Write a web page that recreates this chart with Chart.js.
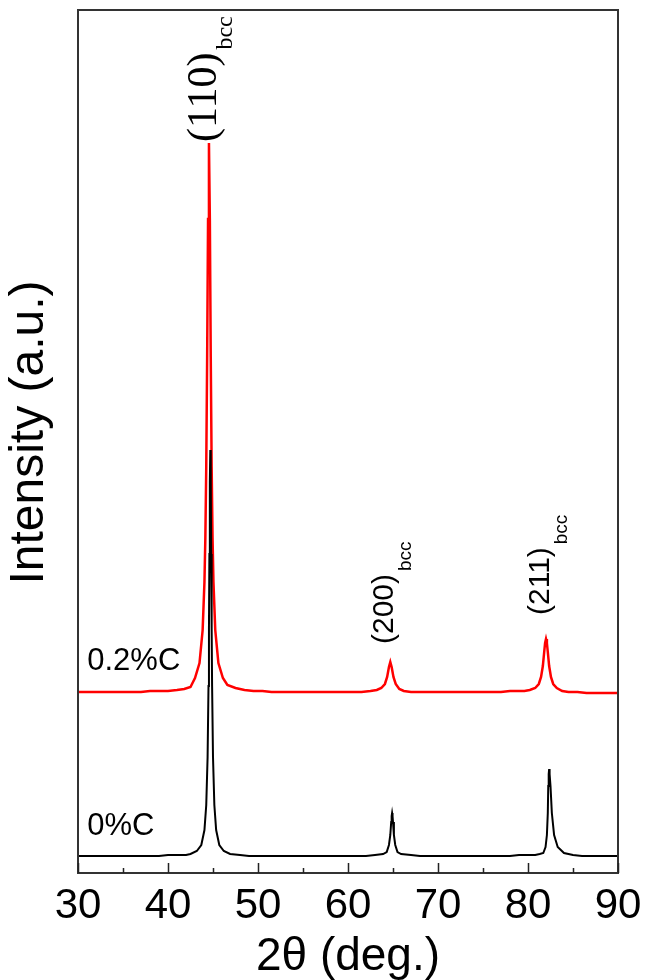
<!DOCTYPE html>
<html>
<head>
<meta charset="utf-8">
<script src="https://cdn.jsdelivr.net/npm/chart.js@4"></script>
<style>
  html, body { margin: 0; padding: 0; background: #fff; }
  #wrap { width: 652px; height: 980px; }
</style>
</head>
<body>
<div id="wrap"><canvas id="xrd"></canvas></div>
<script>
  // 2theta (deg.) and intensity (a.u., offset stacked)
  const black2Theta = [
    30, 31, 32, 33, 34, 35, 36, 37, 38, 39, 40, 41, 42, 42.5, 43.2, 43.7,
    44.05, 44.25, 44.4, 44.5, 44.55, 44.6, 44.65, 44.7, 44.75, 44.8, 44.85, 44.9, 45.0, 45.15, 45.35, 45.7,
    46.2, 46.9, 48, 49, 50, 51, 52, 53, 54, 55, 56, 57, 58, 59, 60, 61, 62, 63,
    63.9, 64.3, 64.55, 64.7, 64.8, 64.85, 64.9, 64.95, 65.0, 65.1, 65.25, 65.5, 65.9,
    67, 68, 69, 70, 71, 72, 73, 74, 75, 76, 77, 78, 79, 80, 80.8,
    81.3, 81.7, 81.95, 82.1, 82.2, 82.25, 82.3, 82.35, 82.4, 82.5, 82.65, 82.9, 83.3,
    84, 85, 86, 87, 88, 89, 90
  ];
  const blackIntensity = [
    17, 17, 17, 17, 17, 17, 17, 17, 17, 17, 18, 18, 18, 19, 22, 28,
    43, 68, 116, 187, 245, 319, 391, 423, 391, 319, 245, 187, 116, 68, 43, 28,
    22, 19, 18, 17, 17, 17, 17, 17, 17, 17, 17, 17, 17, 17, 17, 17, 17, 18,
    19, 21, 28, 38, 51, 57, 60, 57, 51, 38, 28, 21, 19,
    18, 17, 17, 17, 17, 17, 17, 17, 17, 17, 17, 17, 18, 18, 18, 19,
    20, 26, 38, 60, 87, 99, 104, 99, 87, 60, 38, 26, 20,
    18, 17, 17, 17, 17, 17, 17
  ];

  const red2Theta = [
    30, 31, 32, 33, 34, 35, 36, 37, 38, 39, 40, 41, 41.8, 42.5, 43.0, 43.5,
    43.85, 44.05, 44.15, 44.25, 44.35, 44.45, 44.55, 44.65, 44.75, 44.85, 44.95, 45.05, 45.25,
    45.6, 46.1, 46.6, 47.5, 48.5, 49.5, 50.5, 51.5, 52.5, 53.5, 54.5, 55.5, 56.5, 57.5, 58.5, 59.5,
    60.5, 61.5, 62.5, 63.2, 63.7, 64.1, 64.35, 64.55, 64.7, 64.85, 65.05, 65.3, 65.7, 66.2,
    67, 68, 69, 70, 71, 72, 73, 74, 75, 76, 77, 78, 79, 79.6, 80.2,
    80.8, 81.2, 81.45, 81.65, 81.8, 81.9, 82.0, 82.1, 82.2, 82.35, 82.55, 82.8, 83.2, 83.8,
    84.5, 85.5, 86.5, 87.5, 88.5, 89.5, 90
  ];
  const redIntensity = [
    181, 181, 181, 181, 181, 181, 181, 181, 182, 182, 182, 183, 184, 186, 195, 210,
    243, 291, 335, 406, 516, 654, 730, 654, 516, 406, 335, 291, 243,
    210, 195, 188, 185, 183, 182, 182, 181, 181, 181, 181, 181, 181, 181, 181, 181,
    181, 181, 182, 183, 185, 189, 196, 206, 211, 206, 196, 189, 184, 182,
    181, 181, 181, 181, 181, 181, 181, 181, 181, 181, 181, 182, 182, 182, 183,
    185, 189, 196, 207, 221, 230, 234, 230, 221, 207, 196, 189, 185, 182,
    181, 181, 180, 180, 180, 180, 180
  ];

  const seriesNames = ['0%C', '0.2%C'];
  const xTicks = [30, 40, 50, 60, 70, 80, 90];
  const xMinorTicks = [35, 45, 55, 65, 75, 85];
  const peakNames = ['(110)', '(200)', '(211)'];
  const peakPhase = 'bcc';

  const toPoints = (xs, ys) => xs.map((x, i) => ({ x: x, y: ys[i] }));

  // where the texts sit, in data units
  const peakLabelAt = [
    { x: 44.14, y: 731, font: 'Liberation Serif', size: 42, sub: 24, shift: 20 },
    { x: 64.09, y: 229, font: 'Liberation Sans', size: 30, sub: 19, shift: 21 },
    { x: 81.37, y: 258, font: 'Liberation Sans', size: 30, sub: 19, shift: 21 }
  ];
  const seriesLabelAt = [
    { x: 31.03, y: 38 },
    { x: 31.03, y: 203 }
  ];

  const frameAndText = {
    id: 'frameAndText',
    afterDatasetsDraw(chart) {
      const ctx = chart.ctx;
      const a = chart.chartArea;
      const xs = chart.scales.x;
      const ys = chart.scales.y;
      ctx.save();

      // box
      ctx.strokeStyle = '#333';
      ctx.lineWidth = 2;
      ctx.strokeRect(a.left, a.top, a.right - a.left, a.bottom - a.top);

      // inward ticks on the bottom axis
      ctx.lineWidth = 1.5;
      ctx.strokeStyle = '#222';
      ctx.beginPath();
      xTicks.forEach(v => {
        const px = Math.round(xs.getPixelForValue(v)) + 0.5;
        ctx.moveTo(px, a.bottom);
        ctx.lineTo(px, a.bottom - 10);
      });
      xMinorTicks.forEach(v => {
        const px = Math.round(xs.getPixelForValue(v)) + 0.5;
        ctx.moveTo(px, a.bottom);
        ctx.lineTo(px, a.bottom - 5);
      });
      ctx.stroke();

      ctx.fillStyle = '#000';

      // peak labels, rotated, with subscript
      peakNames.forEach((name, i) => {
        const p = peakLabelAt[i];
        ctx.save();
        ctx.translate(xs.getPixelForValue(p.x), ys.getPixelForValue(p.y));
        ctx.rotate(-Math.PI / 2);
        ctx.textAlign = 'left';
        ctx.textBaseline = 'middle';
        ctx.font = p.size + 'px "' + p.font + '"';
        ctx.fillText(name, 0, 0);
        const w = ctx.measureText(name).width;
        ctx.font = p.sub + 'px "' + p.font + '"';
        ctx.fillText(peakPhase, w + 3, p.shift);
        ctx.restore();
      });

      // series names
      ctx.font = '31px "Liberation Sans"';
      ctx.textAlign = 'left';
      ctx.textBaseline = 'alphabetic';
      seriesNames.forEach((name, i) => {
        const p = seriesLabelAt[i];
        ctx.fillText(name, xs.getPixelForValue(p.x), ys.getPixelForValue(p.y));
      });

      // y axis title
      ctx.save();
      ctx.translate(30, (a.top + a.bottom) / 2 - 9);
      ctx.rotate(-Math.PI / 2);
      ctx.textAlign = 'center';
      ctx.textBaseline = 'middle';
      ctx.font = '48px "Liberation Sans"';
      ctx.fillText('Intensity (a.u.)', 0, 0);
      ctx.restore();

      ctx.restore();
    }
  };

  const ctx = document.getElementById('xrd');

  const xrdChart = new Chart(ctx, {
    type: 'line',
    data: {
      datasets: [
        {
          label: seriesNames[0],
          data: toPoints(black2Theta, blackIntensity),
          borderColor: '#000',
          borderWidth: 2,
          pointRadius: 0,
          tension: 0,
          fill: false
        },
        {
          label: seriesNames[1],
          data: toPoints(red2Theta, redIntensity),
          borderColor: '#ff0000',
          borderWidth: 2.5,
          pointRadius: 0,
          tension: 0,
          fill: false
        }
      ]
    },
    options: {
      responsive: true,
      maintainAspectRatio: false,
      animation: false,
      events: [],
      layout: {
        padding: { top: 10, right: 34, left: 0, bottom: 0 }
      },
      plugins: {
        legend: { display: false },
        tooltip: { enabled: false }
      },
      scales: {
        x: {
          type: 'linear',
          min: 30,
          max: 90,
          afterBuildTicks: s => { s.ticks = xTicks.map(v => ({ value: v })); },
          afterFit: s => { s.height = 107; },
          grid: { display: false, drawTicks: false },
          border: { display: false },
          ticks: {
            color: '#000',
            padding: 8,
            maxRotation: 0,
            font: { family: 'Liberation Sans', size: 42 }
          },
          title: {
            display: true,
            text: '2θ (deg.)',
            color: '#000',
            padding: 0,
            font: { family: 'Liberation Sans', size: 46, lineHeight: 1.0 }
          }
        },
        y: {
          min: 0,
          max: 863,
          afterFit: s => { s.width = 78; },
          grid: { display: false },
          border: { display: false },
          ticks: { display: false }
        }
      }
    },
    plugins: [frameAndText]
  });
</script>
</body>
</html>
